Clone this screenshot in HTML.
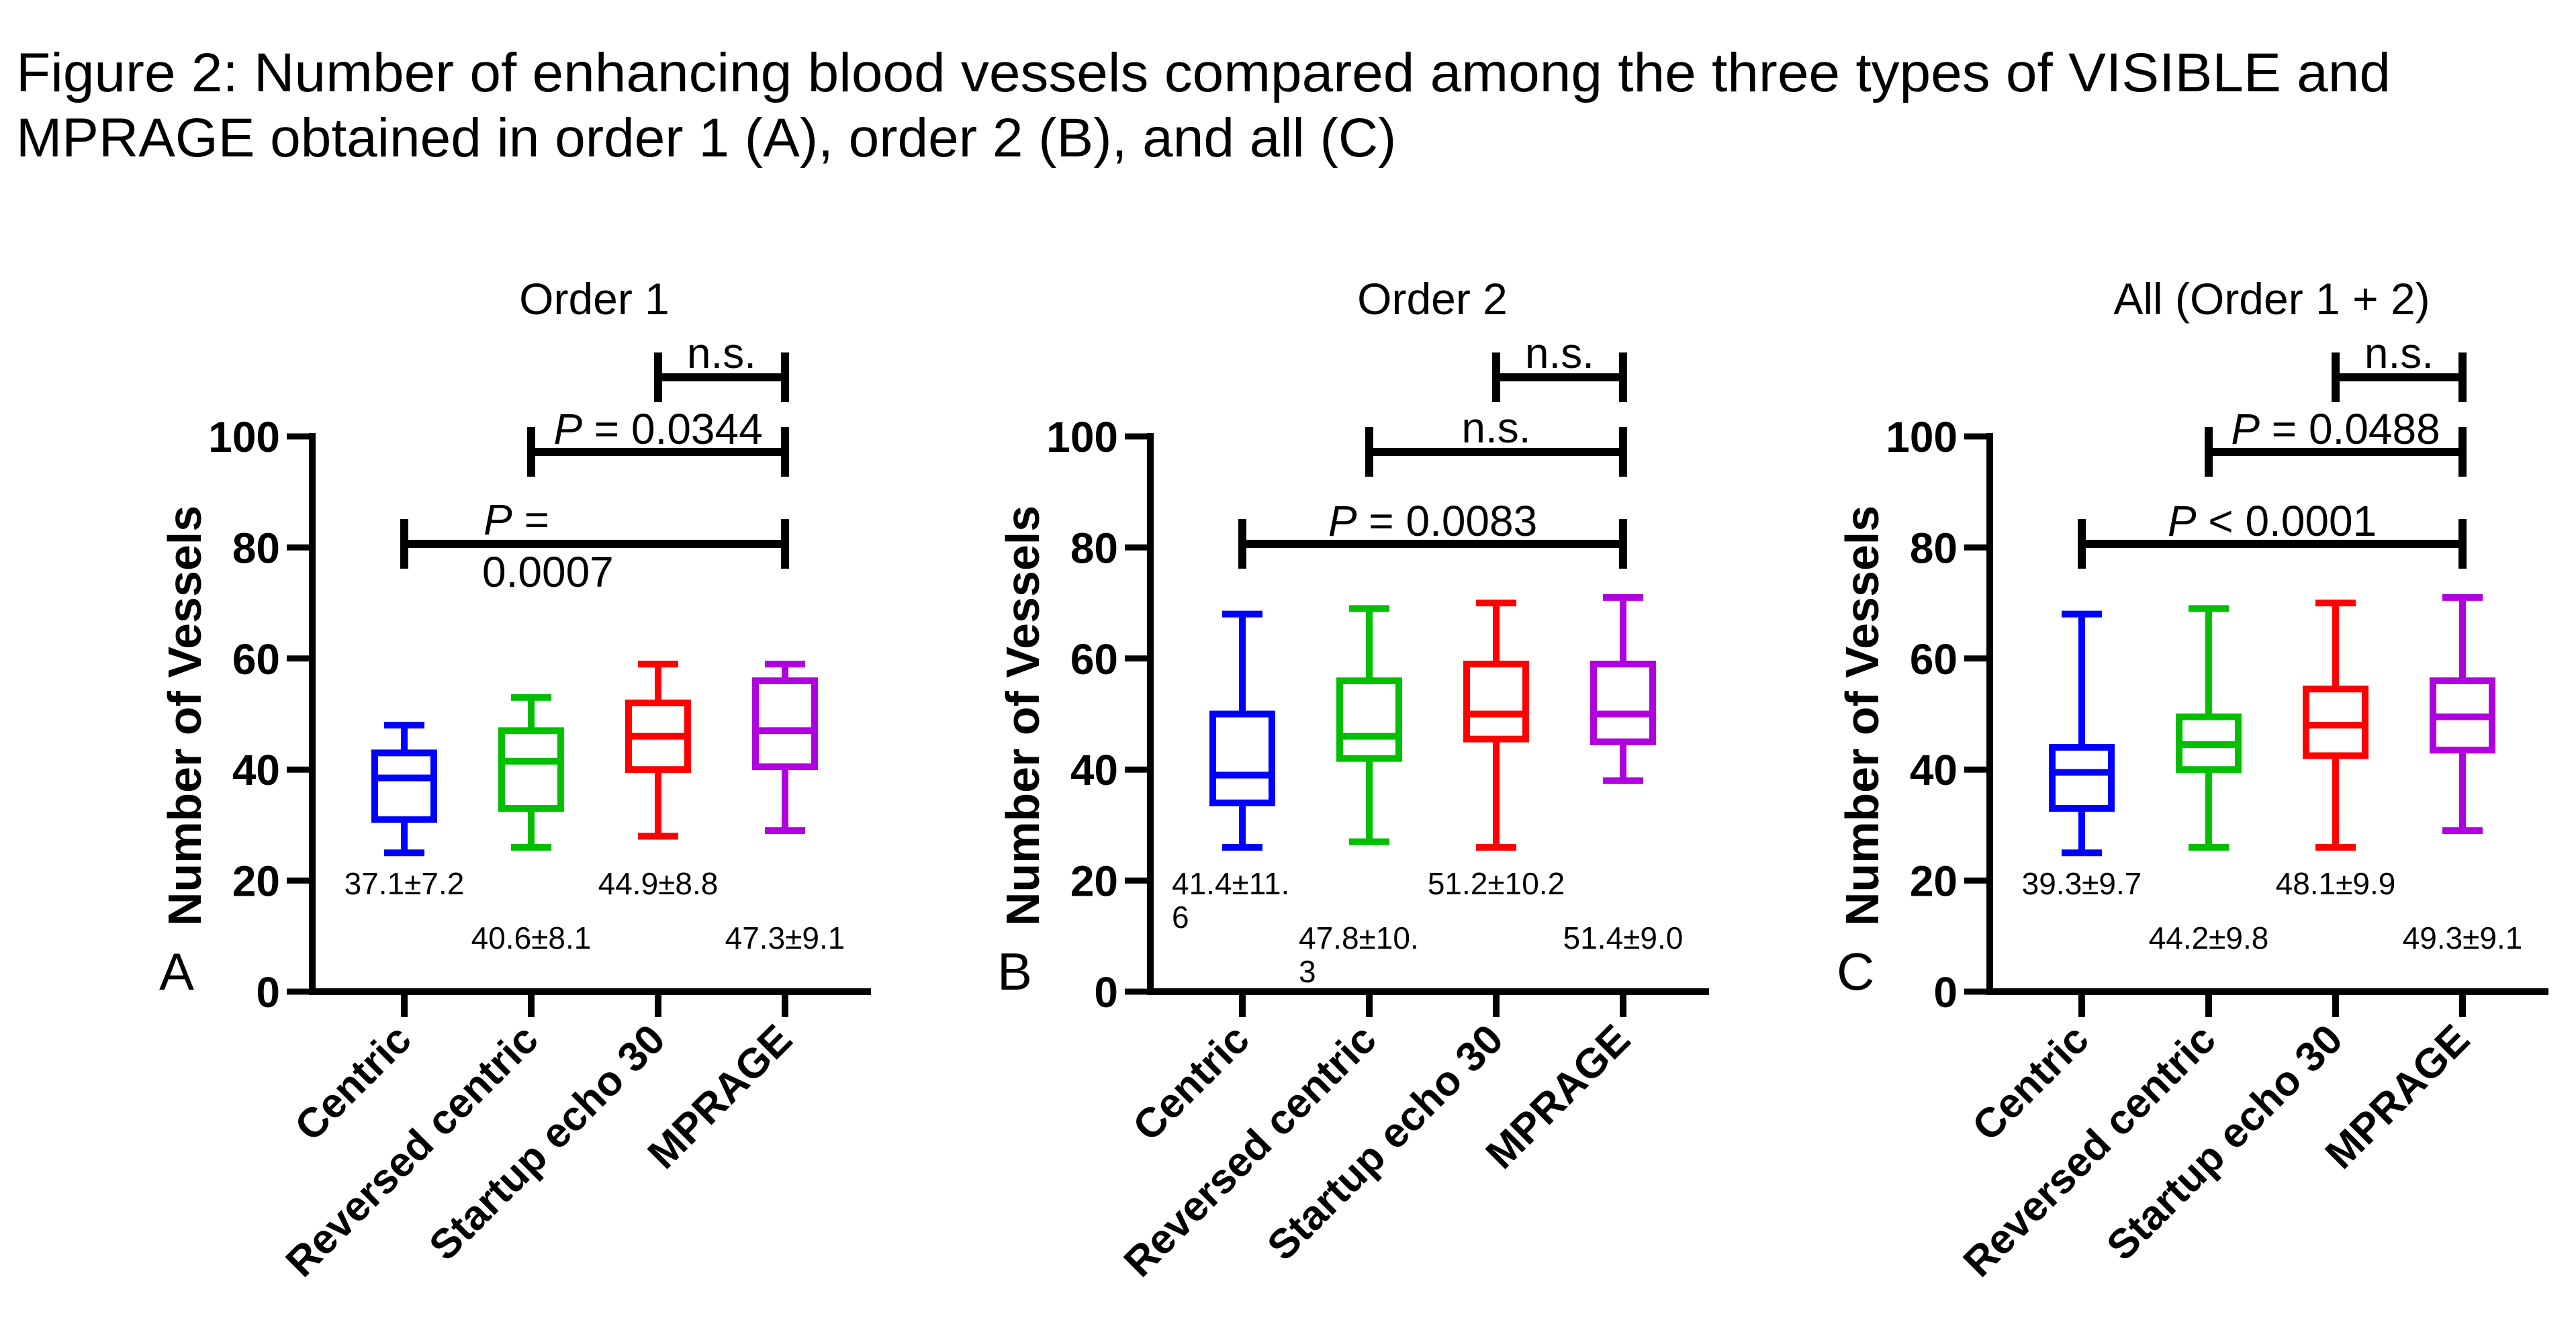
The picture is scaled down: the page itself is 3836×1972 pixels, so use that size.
<!DOCTYPE html>
<html><head><meta charset="utf-8"><style>
html,body{margin:0;padding:0;background:#fff;}
svg{display:block;font-family:"Liberation Sans",Arial,sans-serif;}
</style></head><body>
<svg id="fig" width="3836" height="1972" viewBox="0 0 3836 1972" xmlns="http://www.w3.org/2000/svg">
<text x="24" y="136" font-size="82" textLength="3536" lengthAdjust="spacingAndGlyphs">Figure 2:  Number of enhancing blood vessels compared among the three types of VISIBLE and</text>
<text x="24" y="233" font-size="82">MPRAGE obtained in order 1 (A), order 2 (B), and all (C)</text>
</svg>
<script>
const categories = ["Centric","Reversed centric","Startup echo 30","MPRAGE"];
const colors = ["#0000ff","#00c000","#ff0000","#b000e0"];
const panelTitles = ["Order 1","Order 2","All (Order 1 + 2)"];
const panelLetters = ["A","B","C"];
const yTicks = [0,20,40,60,80,100];
// [whiskerLow, q1, median, q3, whiskerHigh] per category
const boxesA = [[25,31,38.5,43,48],[26,33,41.5,47,53],[28,40,46,52,59],[29,40.5,47,56,59]];
const boxesB = [[26,34,39,50,68],[27,42,46,56,69],[26,45.5,50,59,70],[38,45,50,59,71]];
const boxesC = [[25,33,39.5,44,68],[26,40,44.5,49.5,69],[26,42.5,48,54.5,70],[29,43.5,49.5,56,71]];
const meansA = ["37.1±7.2","40.6±8.1","44.9±8.8","47.3±9.1"];
const meansB = ["41.4±11.6","47.8±10.3","51.2±10.2","51.4±9.0"];
const meansC = ["39.3±9.7","44.2±9.8","48.1±9.9","49.3±9.1"];
// comparisons: [fromIndex, toIndex, label]
const compsA = [[2,3,"n.s."],[1,3,"P = 0.0344"],[0,3,"P = 0.0007"]];
const compsB = [[2,3,"n.s."],[1,3,"n.s."],[0,3,"P = 0.0083"]];
const compsC = [[2,3,"n.s."],[1,3,"P = 0.0488"],[0,3,"P < 0.0001"]];

const NS="http://www.w3.org/2000/svg";
const svg=document.getElementById('fig');
function mk(tag,attrs,parent){const e=document.createElementNS(NS,tag);for(const k in attrs)e.setAttribute(k,attrs[k]);(parent||svg).appendChild(e);return e;}
const axisX=[465,1713,2963];
const yScale=v=>1477-v*8.27;
const bracketY=[562,673,810];
const allBoxes=[boxesA,boxesB,boxesC], allMeans=[meansA,meansB,meansC], allComps=[compsA,compsB,compsC];

for(let p=0;p<3;p++){
  const ax=axisX[p];
  const xPos=i=>ax+137+i*189;
  const g=mk('g',{});
  
  
  const t=mk('text',{x:ax+420,y:468,'font-size':66,'text-anchor':'middle'},g);t.textContent=panelTitles[p];
  
  
  const ya=mk('line',{x1:ax,y1:yScale(100)-5,x2:ax,y2:yScale(0)+5,stroke:'#000','stroke-width':10},g);
  
  
  const xa=mk('line',{x1:ax-5,y1:yScale(0),x2:ax+832,y2:yScale(0),stroke:'#000','stroke-width':10},g);
  
  
  yTicks.forEach(v=>{
    mk('line',{x1:ax-38,y1:yScale(v),x2:ax,y2:yScale(v),stroke:'#000','stroke-width':9},g);
    const tl=mk('text',{x:ax-48,y:yScale(v)+23,'font-size':64,'font-weight':'bold','text-anchor':'end'},g);tl.textContent=v;
    
    
  });
  const yt=mk('text',{transform:`translate(${ax-166},1066) rotate(-90)`,'font-size':70,'font-weight':'bold','text-anchor':'middle'},g);yt.textContent='Number of Vessels';
  
  
  const pl=mk('text',{x:ax-228,y:1474,'font-size':78},g);pl.textContent=panelLetters[p];
  
  
  categories.forEach((c,i)=>{
    const x=xPos(i);
    mk('line',{x1:x,y1:yScale(0),x2:x,y2:yScale(0)+38,stroke:'#000','stroke-width':10},g);
    const xl=mk('text',{transform:`translate(${x+14},1552) rotate(-45)`,'font-size':62,'font-weight':'bold','text-anchor':'end'},g);xl.textContent=c;
    
    
    const b=allBoxes[p][i], col=colors[i];
    const bg=mk('g',{stroke:col,'stroke-width':10,fill:'none'},g);
    
    
    mk('line',{x1:x,y1:yScale(b[0]),x2:x,y2:yScale(b[1])},bg);
    mk('line',{x1:x,y1:yScale(b[3]),x2:x,y2:yScale(b[4])},bg);
    mk('line',{x1:x-30,y1:yScale(b[0]),x2:x+30,y2:yScale(b[0])},bg);
    mk('line',{x1:x-30,y1:yScale(b[4]),x2:x+30,y2:yScale(b[4])},bg);
    mk('rect',{x:x-44,y:yScale(b[3]),width:88,height:yScale(b[1])-yScale(b[3])},bg);
    mk('line',{x1:x-44,y1:yScale(b[2]),x2:x+44,y2:yScale(b[2])},bg);
    const m=allMeans[p][i];
    const my=(i%2===0)?1332:1413;
    const ml=mk('text',{'font-size':46},g);
    
    
    if(p===1&&i<2){
      ml.setAttribute('x',x-105);ml.setAttribute('y',my);
      const cut=m.length-1;
      const s1=mk('tspan',{x:x-105,y:my},ml);s1.textContent=m.slice(0,cut);
      const s2=mk('tspan',{x:x-105,y:my+50},ml);s2.textContent=m.slice(cut);
    } else {
      ml.setAttribute('x',x);ml.setAttribute('y',my);ml.setAttribute('text-anchor','middle');ml.textContent=m;
    }
  });
  allComps[p].forEach((cp,k)=>{
    const x1=xPos(cp[0]),x2=xPos(cp[1]),y=bracketY[k];
    const cg=mk('g',{stroke:'#000','stroke-width':12},g);
    
    
    mk('line',{x1:x1,y1:y,x2:x2,y2:y},cg);
    mk('line',{x1:x1,y1:y-37,x2:x1,y2:y+37},cg);
    mk('line',{x1:x2,y1:y-37,x2:x2,y2:y+37},cg);
    const lab=cp[2];
    const tx=mk('text',{'font-size':64,'text-anchor':'middle'},g);
    
    
    const cx=(x1+x2)/2;
    if(lab==='n.s.'){tx.setAttribute('x',cx);tx.setAttribute('y',y-14);tx.textContent=lab;}
    else if(p===0&&k===2){
      tx.setAttribute('text-anchor','start');
      const a=mk('tspan',{x:720,y:y-14,'font-style':'italic'},tx);a.textContent='P';
      const b2=mk('tspan',{},tx);b2.textContent=' =';
      const c2=mk('tspan',{x:718,y:y+64},tx);c2.textContent=lab.slice(4);
    } else {
      tx.setAttribute('x',cx);tx.setAttribute('y',y-12);
      const a=mk('tspan',{'font-style':'italic'},tx);a.textContent='P';
      const b2=mk('tspan',{},tx);b2.textContent=lab.slice(1);
    }
  });
}
</script>
</body></html>
